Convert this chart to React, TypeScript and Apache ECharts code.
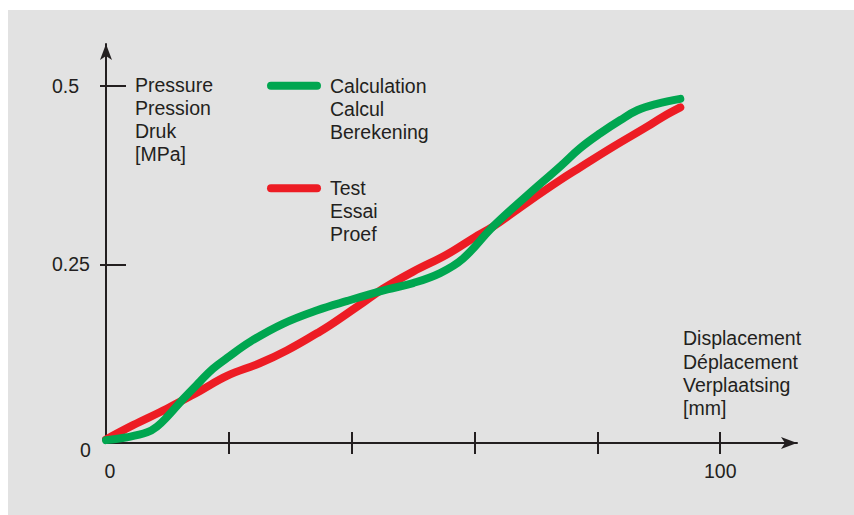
import React, { useEffect, useRef } from "react";
import * as echarts from "echarts";

// ---- data (displacement in mm, pressure in MPa) ----
const calcDisplacement = [0, 3.4, 6.7, 8.3, 10.0, 12.6, 15.3, 17.4, 19.7, 23.5, 28.8, 34.4, 39.3, 45.8, 50.0, 54.4, 58.1, 63.0, 68.6, 73.9, 77.2, 80.5, 83.7, 86.5, 89.7, 93.5];
const calcPressure = [0.004, 0.008, 0.015, 0.023, 0.037, 0.062, 0.086, 0.104, 0.119, 0.142, 0.167, 0.186, 0.199, 0.215, 0.224, 0.238, 0.258, 0.303, 0.347, 0.387, 0.413, 0.434, 0.452, 0.466, 0.475, 0.482];

const testDisplacement = [0, 4.4, 9.9, 15.3, 19.7, 25.1, 29.5, 34.4, 36.5, 41.9, 45.1, 50.0, 55.5, 60.0, 63.0, 68.6, 73.9, 77.2, 82.6, 88.1, 90.7, 93.5];
const testPressure = [0.005, 0.025, 0.048, 0.073, 0.094, 0.112, 0.13, 0.154, 0.165, 0.197, 0.216, 0.24, 0.264, 0.288, 0.303, 0.337, 0.368, 0.386, 0.415, 0.443, 0.457, 0.47];

const xTickValues = [20, 40, 60, 80, 100];
const xLabelValues = [0, 100];
const yTickValues = [0.25, 0.5];
const yLabelValues = [0, 0.25, 0.5];

const seriesNames = ["Calculation", "Test"];
const legendLabels: Record<string, string> = {
  Calculation: "\n\nCalculation\nCalcul\nBerekening",
  Test: "\n\nTest\nEssai\nProef",
};
const yAxisName = "Pressure\nPression\nDruk\n[MPa]";
const xAxisName = "Displacement\nDéplacement\nVerplaatsing\n[mm]";

const FONT = '"Liberation Sans", Arial, Helvetica, sans-serif';
const INK = "#231f20";
const GREEN = "#00a650";
const RED = "#ed1c24";
const FS = 19.5;
const ICON = "path://M4,0 L50,0 A4,4 0 0 1 50,8 L4,8 A4,4 0 0 1 4,0 Z";

function pairs(xs: number[], ys: number[]) {
  return xs.map((x, i) => [x, ys[i]]);
}

export default function App() {
  const ref = useRef<HTMLDivElement>(null);
  useEffect(() => {
    if (!ref.current) return;
    const chart = echarts.init(ref.current, null, { renderer: "svg", width: 854, height: 515 });
    const tickLine = { color: INK, width: 2 };
    const legendBase = {
      orient: "vertical",
      left: 267,
      padding: 0,
      itemWidth: 54,
      itemHeight: 8,
      icon: ICON,
      selectedMode: false,
      itemStyle: { borderWidth: 0 },
      formatter: (n: string) => legendLabels[n] || n,
      textStyle: { fontSize: FS, lineHeight: 23, color: INK, fontFamily: FONT, padding: [0, 0, 0, 4] },
    };
    const option: any = {
      animation: false,
      backgroundColor: "#ffffff",
      textStyle: { fontFamily: FONT },
      graphic: [
        { type: "rect", z: -10, silent: true, shape: { x: 8, y: 10, width: 846, height: 505 }, style: { fill: "#e2e2e2" } },
      ],
      grid: { left: 106, right: 57, top: 44, bottom: 72, containLabel: false, outerBoundsMode: "none" },
      legend: [
        { ...legendBase, top: 28.2, data: [seriesNames[0]] },
        { ...legendBase, top: 130.8, data: [seriesNames[1]] },
      ],
      xAxis: [
        {
          type: "value",
          min: 0,
          max: 112.5,
          position: "bottom",
          splitLine: { show: false },
          axisLine: { show: true, lineStyle: { color: INK, width: 2 }, symbol: ["none", "arrow"], symbolSize: [9, 16] },
          axisTick: { show: true, inside: false, length: 11, lineStyle: tickLine, customValues: xTickValues },
          axisLabel: {
            show: true,
            customValues: xLabelValues,
            margin: 18,
            color: INK,
            fontSize: FS,
            fontFamily: FONT,
            formatter: (v: number) => (v === 0 ? "{z|0}" : String(v)),
            rich: { z: { padding: [0, 0, 0, 8], fontSize: FS, color: INK, fontFamily: FONT } },
          },
          name: xAxisName,
          nameLocation: "end",
          nameGap: -114,
          nameMoveOverlap: false,
          nameTextStyle: { align: "left", verticalAlign: "bottom", fontSize: FS, lineHeight: 23.3, color: INK, fontFamily: FONT, padding: [0, 0, 23, 0] },
        },
        {
          type: "value",
          min: 0,
          max: 112.5,
          position: "bottom",
          splitLine: { show: false },
          axisLine: { show: false },
          axisTick: { show: true, inside: true, length: 11, lineStyle: tickLine, customValues: xTickValues },
          axisLabel: { show: false },
        },
      ],
      yAxis: [
        {
          type: "value",
          min: 0,
          max: 0.5588,
          position: "left",
          splitLine: { show: false },
          axisLine: { show: true, lineStyle: { color: INK, width: 2 }, symbol: ["none", "arrow"], symbolSize: [9, 16] },
          axisTick: { show: true, inside: false, length: 6, lineStyle: tickLine, customValues: yTickValues },
          axisLabel: {
            show: true,
            customValues: yLabelValues,
            align: "left",
            margin: 54,
            color: INK,
            fontSize: FS,
            fontFamily: FONT,
            formatter: (v: number) => (v === 0 ? "{z|0}" : String(v)),
            rich: { z: { padding: [14, 0, 0, 28], fontSize: FS, color: INK, fontFamily: FONT } },
          },
          name: yAxisName,
          nameLocation: "end",
          nameGap: -29.5,
          nameMoveOverlap: false,
          nameTextStyle: { align: "left", verticalAlign: "top", fontSize: FS, lineHeight: 23, color: INK, fontFamily: FONT, padding: [0, 0, 0, 29] },
        },
        {
          type: "value",
          min: 0,
          max: 0.5588,
          position: "left",
          splitLine: { show: false },
          axisLine: { show: false },
          axisTick: { show: true, inside: true, length: 20, lineStyle: tickLine, customValues: yTickValues },
          axisLabel: { show: false },
        },
      ],
      series: [
        {
          name: seriesNames[1],
          type: "line",
          xAxisIndex: 0,
          yAxisIndex: 0,
          data: pairs(testDisplacement, testPressure),
          smooth: 0.4,
          showSymbol: false,
          symbol: "none",
          itemStyle: { color: RED },
          lineStyle: { color: RED, width: 8, cap: "round", join: "round" },
          z: 2,
        },
        {
          name: seriesNames[0],
          type: "line",
          xAxisIndex: 0,
          yAxisIndex: 0,
          data: pairs(calcDisplacement, calcPressure),
          smooth: 0.4,
          showSymbol: false,
          symbol: "none",
          itemStyle: { color: GREEN },
          lineStyle: { color: GREEN, width: 8, cap: "round", join: "round" },
          z: 3,
        },
      ],
    };
    chart.setOption(option);
    return () => chart.dispose();
  }, []);
  return (
    <div
      ref={ref}
      style={{ position: "fixed", left: 0, top: 0, width: 854, height: 515, background: "#ffffff" }}
    />
  );
}
